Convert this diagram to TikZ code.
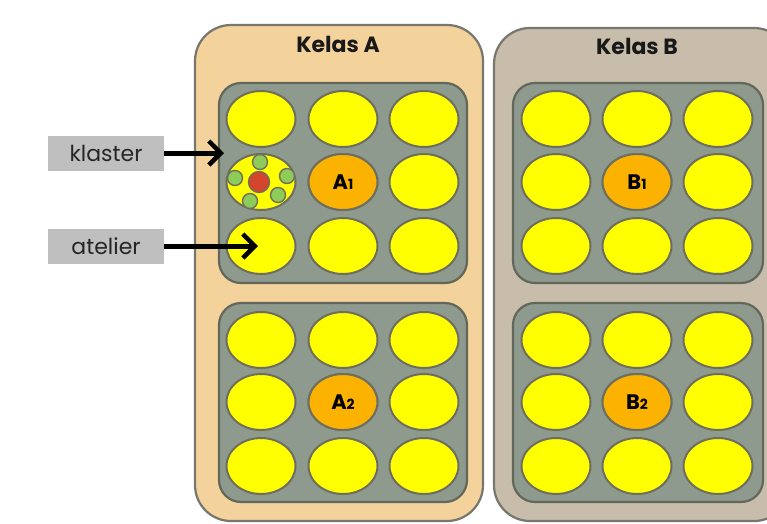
\documentclass[tikz,border=0pt]{standalone}
\usepackage{fontspec}
\setmainfont{Poppins}
\usetikzlibrary{arrows.meta,shapes.geometric}
\definecolor{kelasA}{HTML}{F3D29C}
\definecolor{kelasB}{HTML}{C8BCAB}
\definecolor{edge}{HTML}{77776F}
\definecolor{panel}{HTML}{8E9A8E}
\definecolor{panelEdge}{HTML}{63675A}
\definecolor{spot}{HTML}{FFFF00}
\definecolor{spotEdge}{HTML}{6E6E5E}
\definecolor{core}{HTML}{FBB200}
\definecolor{leaf}{HTML}{8FCB58}
\definecolor{heart}{HTML}{D4452E}
\definecolor{tag}{HTML}{BFBFBF}
\tikzset{
  classbox/.style={draw=edge, line width=2.2pt, rounded corners=36pt},
  panelbox/.style={draw=panelEdge, fill=panel, line width=2.2pt, rounded corners=22pt},
  spotnode/.style={ellipse, draw=spotEdge, fill=spot, line width=2pt,
    minimum width=69pt, minimum height=56pt, inner sep=0pt},
  corenode/.style={spotnode, fill=core},
  title/.style={font=\fontsize{22}{22}\selectfont\bfseries, text=black!90},
  tagbox/.style={fill=tag, minimum width=116pt, minimum height=35pt, inner sep=0pt,
    font=\fontsize{22}{22}\selectfont, text=black!85},
  pointer/.style={line width=5pt, -{Straight Barb[length=12pt,width=24pt,line width=4.5pt]}},
  dotg/.style={circle, draw=spotEdge, fill=leaf, line width=1.4pt, minimum size=15pt, inner sep=0pt},
  dotr/.style={circle, draw=spotEdge, fill=heart, line width=1.4pt, minimum size=21pt, inner sep=0pt},
}
\newcommand{\corelabel}[2]{\fontsize{21}{21}\selectfont\bfseries #1\raisebox{-0.5pt}{\fontsize{14}{14}\selectfont #2}}
\begin{document}
\begin{tikzpicture}[x=1pt,y=-1pt]
\useasboundingbox (0,0) rectangle (767,523);
\fill[white] (0,0) rectangle (767,523);
\begin{scope}
\clip (0,0) rectangle (767,523);
% class rooms
\draw[classbox, fill=kelasA] (195,25) rectangle (483,521);
\draw[classbox, fill=kelasB] (494,28) rectangle (790,521);
\node[title] (tA) at (338,44) {Kelas A};
\node[title] (tB) at (637,46) {Kelas B};
% panels
\draw[panelbox] (219,83) rectangle (467,283);
\draw[panelbox] (219,303) rectangle (467,502);
\draw[panelbox] (513,83) rectangle (763,283);
\draw[panelbox] (513,303) rectangle (763,502);
% ateliers, class A
\foreach \r/\y in {1/119,2/182,3/246}{
  \foreach \c/\x in {1/261,2/343,3/424}{
    \node[spotnode] (a\r\c) at (\x,\y) {};
  }
}
\foreach \r/\y in {1/340,2/402,3/466}{
  \foreach \c/\x in {1/261,2/343,3/424}{
    \node[spotnode] (c\r\c) at (\x,\y) {};
  }
}
% ateliers, class B
\foreach \r/\y in {1/119,2/182,3/246}{
  \foreach \c/\x in {1/556,2/637,3/718}{
    \node[spotnode] (b\r\c) at (\x,\y) {};
  }
}
\foreach \r/\y in {1/340,2/402,3/466}{
  \foreach \c/\x in {1/556,2/637,3/718}{
    \node[spotnode] (d\r\c) at (\x,\y) {};
  }
}
% central ateliers
\node[corenode] (A1) at (343,182) {\corelabel{A}{1}};
\node[corenode] (A2) at (343,402) {\corelabel{A}{2}};
\node[corenode] (B1) at (637,182) {\corelabel{B}{1}};
\node[corenode] (B2) at (637,402) {\corelabel{B}{2}};
% a cluster inside one atelier
\node[dotr] (r0) at (259,182) {};
\node[dotg] (g1) at (260,162) {};
\node[dotg] (g2) at (235,178) {};
\node[dotg] (g3) at (287,176) {};
\node[dotg] (g4) at (250,201) {};
\node[dotg] (g5) at (278,195) {};
% legend
\node[tagbox] (klaster) at (106,153) {klaster};
\node[tagbox] (atelier) at (106,246) {atelier};
\coordinate (kEnd) at (224,153);
\coordinate (aEnd) at (258,246);
\draw[pointer] (klaster.east) -- (kEnd);
\draw[pointer] (atelier.east) -- (aEnd);
\end{scope}
\end{tikzpicture}
\end{document}
